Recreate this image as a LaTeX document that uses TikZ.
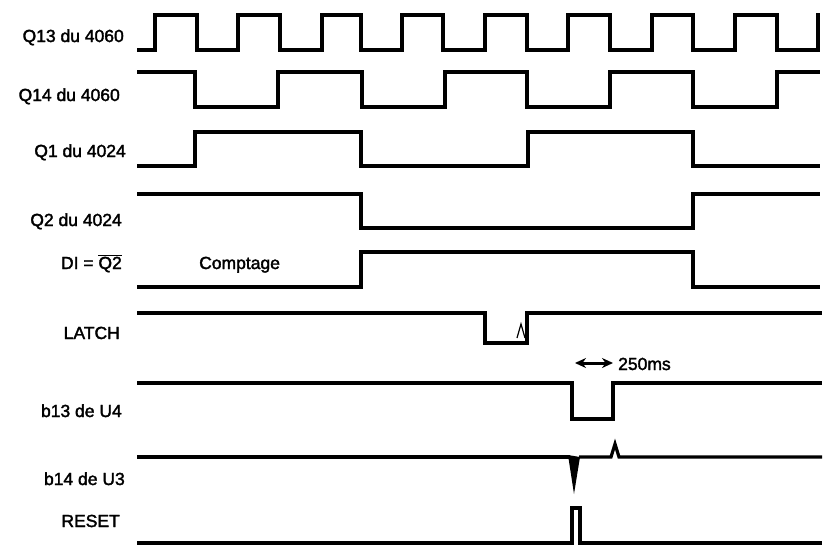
\documentclass[tikz,border=0pt]{standalone}
\usepackage{fontspec}
\setmainfont{Liberation Sans}
\newfontfamily\lblfont{Liberation Sans}[FakeBold=2]
\usetikzlibrary{arrows.meta}
\begin{document}
\begin{tikzpicture}[x=1pt,y=-1pt,
  sig/.style={line width=3.2pt, line join=miter, line cap=butt},
  lab/.style={anchor=base east, font=\fontsize{17.5}{20}\lblfont, inner sep=0pt},
  txt/.style={anchor=base west, font=\fontsize{17.5}{20}\lblfont, inner sep=0pt}]
\useasboundingbox (0,0) rectangle (823,546);
% labels
\node[lab] (lq13) at (124,42) {Q13 du 4060};
\node[lab] (lq14) at (120,101) {Q14 du 4060};
\node[lab] (lq1) at (126,157) {Q1 du 4024};
\node[lab] (lq2) at (122,226) {Q2 du 4024};
\node[lab] (ld1) at (122,269) {DI = $\overline{\mbox{Q2}}$};
\node[txt] (lcpt) at (199,269) {Comptage};
\node[lab] (llatch) at (120,339) {LATCH};
\node[lab] (lb13) at (122,417) {b13 de U4};
\node[lab] (lb14) at (125,485) {b14 de U3};
\node[lab] (lreset) at (120,527) {RESET};
% Q13
\draw[sig] (137,50)-|(155,15)-|(197,50)-|(238,15)-|(280,50)-|(322,15)-|(361,50)-|(402,15)-|(443,50)-|(485,15)-|(527,50)-|(568,15)-|(610,50)-|(652,15)-|(693,50)-|(735,15)-|(777,50)-|(818,15)--(820,15);
% Q14
\draw[sig] (137,72)-|(195,107)-|(278,72)-|(362,107)-|(445,72)-|(527,107)-|(610,72)-|(693,107)-|(777,72)--(820,72);
% Q1
\draw[sig] (137,166)-|(195,132)-|(361,166)-|(528,132)-|(693,166)--(820,166);
% Q2
\draw[sig] (137,194)-|(361,228)-|(693,194)--(820,194);
% DI
\draw[sig] (137,287)-|(361,252)-|(693,287)--(820,287);
% LATCH
\draw[sig] (137,313)-|(485,343)-|(527,313)--(822,313);
\draw[line width=1.2pt] (517,338)--(521,324)--(525,338);
% 250ms
\draw[{Stealth[length=11pt,width=10pt]}-{Stealth[length=11pt,width=10pt]}, line width=3pt] (575,363)--(613,363);
\node[txt] (l250) at (618,370) {250ms};
% b13
\draw[sig] (137,383)-|(572,419)-|(613,383)--(822,383);
% b14
\draw[sig] (137,457)--(570,457);
\fill (568,455)--(574,494)--(580,457)--cycle;
\draw[sig] (579,457)--(611,457)--(615,444)--(619,457)--(822,457);
% RESET
\draw[sig] (137,543)-|(572,508)-|(580,543)--(822,543);
\end{tikzpicture}
\end{document}
